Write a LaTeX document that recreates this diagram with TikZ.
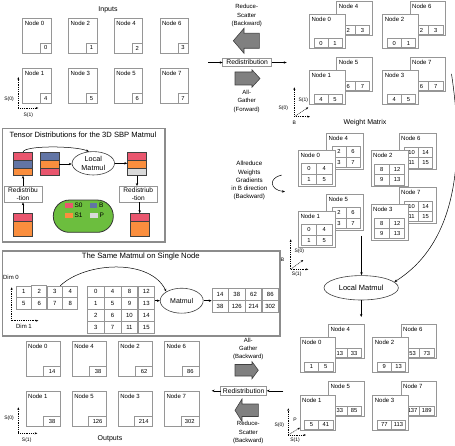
\documentclass[tikz,border=0pt]{standalone}
\usepackage{fontspec}
\setmainfont{Liberation Sans}
\usetikzlibrary{shapes.geometric,arrows.meta,calc,matrix}

\newcommand\fsz[1]{\fontsize{#1}{#1}\selectfont}

\definecolor{cpink}{RGB}{233,86,110}
\definecolor{cblue}{RGB}{98,117,165}
\definecolor{corange}{RGB}{250,142,62}
\definecolor{clgray}{RGB}{218,218,218}
\definecolor{cgreen}{RGB}{108,190,62}
\definecolor{cline}{RGB}{150,150,150}
\definecolor{cblock}{RGB}{128,128,128}
\definecolor{cframe}{RGB}{140,140,140}

\tikzset{
  box/.style={draw=cline, fill=white, inner sep=0pt, outer sep=0pt, line width=0.5pt},
  cell/.style={draw=cline, fill=white, inner sep=0pt, outer sep=0pt, line width=0.5pt, font=\fsz{5.8}},
  lbl/.style={inner sep=0pt, font=\fsz{6}, anchor=north west},
  conn/.style={-{Stealth[length=3pt,width=2.4pt]}, line width=0.5pt, black},
  axis/.style={-{Stealth[length=2.6pt,width=2pt]}, line width=0.45pt, dash pattern=on 1pt off 0.8pt},
  axl/.style={inner sep=0pt, font=\fsz{5}},
  caption/.style={inner sep=0pt, font=\fsz{7}},
  note/.style={inner sep=0pt, font={\fontsize{6}{8.3}\selectfont}, align=center},
  redist/.style={draw=cline, fill=white, inner sep=0pt, outer sep=0pt, line width=0.5pt, font=\fsz{6.8}, minimum height=8.5pt},
  redistb/.style={draw=cline, fill=white, inner sep=0pt, outer sep=0pt, line width=0.5pt, font={\fontsize{6.6}{7.8}\selectfont}, align=center, minimum width=37.7pt, minimum height=16.3pt},
  block/.style={fill=cblock, draw=black!75, line width=0.6pt, line join=miter},
  frame/.style={draw=cframe, line width=1.6pt, inner sep=0pt, anchor=north west},
  bar/.style={draw=black!75, line width=0.6pt, inner sep=0pt, outer sep=0pt, minimum width=19.4pt, minimum height=7.8pt, anchor=north west},
  oval/.style={ellipse, draw=black!75, fill=white, line width=0.6pt, inner sep=0pt},
  sq/.style={inner sep=0pt, minimum width=7.7pt, minimum height=5pt},
  legt/.style={inner sep=0pt, font=\fsz{6.5}, anchor=west}
}

% input / output box with one value cell
\newcommand\mkinput[7]{%
  \node[box, anchor=north west, minimum width=#4pt, minimum height=35pt] (#1) at (#2,#3) {};
  \node[lbl] (#1-l) at ($(#1.north west)+(2,2.5)$) {#5};
  \node[cell, anchor=south east, minimum width=#7pt, minimum height=10pt] (#1-v) at (#1.south east) {#6};
}
% stacked box with a row of two cells
\newcommand\mkrow[6]{%
  \node[box, anchor=north west, minimum width=35.6pt, minimum height=34.5pt] (#1) at (#2,#3) {};
  \node[lbl] (#1-l) at ($(#1.north west)+(2,2.5)$) {#4};
  \node[cell, anchor=south west, minimum width=14.2pt, minimum height=9pt] (#1-a) at ($(#1.south west)+(4.5,-0.8)$) {#5};
  \node[cell, anchor=south west, minimum width=14.2pt, minimum height=9pt] (#1-b) at (#1-a.south east) {#6};
}
% stacked box with a 2x2 grid
\newcommand\mkgrid[9]{%
  \node[box, anchor=north west, minimum width=37pt, minimum height=36pt] (#1) at (#2,#3) {};
  \node[lbl] (#1-l) at ($(#1.north west)+(2,2.5)$) {#4};
  \node[cell, anchor=north east, minimum width=#9pt, minimum height=10.4pt] (#1-b) at ($(#1.north east)+(-3.4,13.6)$) {#6};
  \node[cell, anchor=north east, minimum width=#9pt, minimum height=10.4pt] (#1-a) at (#1-b.north west) {#5};
  \node[cell, anchor=north east, minimum width=#9pt, minimum height=10.4pt] (#1-d) at (#1-b.south east) {#8};
  \node[cell, anchor=north east, minimum width=#9pt, minimum height=10.4pt] (#1-c) at (#1-d.north west) {#7};
}

\begin{document}
\begin{tikzpicture}[x=1pt,y=-1pt]
\useasboundingbox (0,0) rectangle (455,446);

% ---------------- Inputs ----------------
\node[caption] (tin) at (108,9.5) {Inputs};
\mkinput{in0}{22.7}{18}{28.3}{Node 0}{0}{10.3}
\mkinput{in2}{68.45}{18}{28.3}{Node 2}{1}{10.3}
\mkinput{in4}{114.2}{18}{28.3}{Node 4}{2}{10.3}
\mkinput{in6}{159.95}{18}{28.3}{Node 6}{3}{10.3}
\mkinput{in1}{22.7}{68.3}{28.3}{Node 1}{4}{10.3}
\mkinput{in3}{68.45}{68.3}{28.3}{Node 3}{5}{10.3}
\mkinput{in5}{114.2}{68.3}{28.3}{Node 5}{6}{10.3}
\mkinput{in7}{159.95}{68.3}{28.3}{Node 7}{7}{10.3}
\coordinate (a1o) at (18.3,108); \coordinate (a1u) at (18.3,77); \coordinate (a1r) at (38.3,108);
\draw[axis] (a1o) -- (a1u); \draw[axis] (a1o) -- (a1r);
\node[axl] (a1s0) at (9,99) {S(0)};
\node[axl] (a1s1) at (28.3,115) {S(1)};

% ---------------- Top redistribution ----------------
\node[note] (rs1) at (246.7,15.6) {Reduce-\\Scatter\\(Backward)};
\draw[block] (233.3,40.8) -- (244,28.3) -- (244,33.3) -- (259.3,33.3) -- (259.3,48.3) -- (244,48.3) -- (244,53.3) -- cycle;
\node[redist, minimum width=49pt] (rd1) at (247.2,62.5) {Redistribution};
\coordinate (rd1in) at (208,62.5); \coordinate (rd1out) at (286.7,62.5);
\draw[conn] (rd1in) -- (rd1.west); \draw[conn] (rd1.east) -- (rd1out);
\draw[block] (235,72) -- (252,72) -- (252,69.8) -- (260,78.5) -- (252,87.2) -- (252,85) -- (235,85) -- cycle;
\node[note] (ag1) at (246.7,101.2) {All-\\Gather\\(Forward)};

% ---------------- Top right groups ----------------
\mkrow{g0b}{336.7}{1}{Node 4}{2}{3}
\mkrow{g0f}{309.3}{14}{Node 0}{0}{1}
\mkrow{g2b}{410}{1}{Node 6}{2}{3}
\mkrow{g2f}{382.6}{14}{Node 2}{0}{1}
\mkrow{g1b}{336.7}{57}{Node 5}{6}{7}
\mkrow{g1f}{309.3}{70}{Node 1}{4}{5}
\mkrow{g3b}{410}{57}{Node 7}{6}{7}
\mkrow{g3f}{382.6}{70}{Node 3}{4}{5}
\coordinate (a2o) at (294.3,116.7); \coordinate (a2u) at (294.3,87.3);
\coordinate (a2r) at (310,116.7); \coordinate (a2d) at (308.3,107.3);
\draw[axis] (a2o) -- (a2u); \draw[axis] (a2o) -- (a2r); \draw[axis] (a2o) -- (a2d);
\node[axl] (a2s0) at (283.3,108.3) {S(0)};
\node[axl] (a2s1) at (303.3,100) {S(1)};
\node[axl] (a2b) at (294.3,122.7) {B};

% ---------------- Weight matrix ----------------
\node[caption] (twm) at (365,123) {Weight Matrix};
\mkgrid{w0b}{326.3}{133}{Node 4}{2}{6}{3}{7}{14}
\mkgrid{w0f}{298.3}{150}{Node 0}{0}{4}{1}{5}{15.2}
\mkgrid{w2b}{399}{133.5}{Node 6}{10}{14}{11}{15}{14}
\mkgrid{w2f}{371}{150.5}{Node 2}{8}{12}{9}{13}{15.2}
\mkgrid{w1b}{326.3}{194}{Node 5}{2}{6}{3}{7}{14}
\mkgrid{w1f}{298.3}{211}{Node 1}{0}{4}{1}{5}{15.2}
\mkgrid{w3b}{399}{187.3}{Node 7}{10}{14}{11}{15}{14}
\mkgrid{w3f}{371}{204.3}{Node 3}{8}{12}{9}{13}{15.2}
\node[note, font={\fontsize{6.2}{8.1}\selectfont}] (ar) at (249.3,180.5) {Allreduce\\Weights\\Gradients\\in B direction\\(Backward)};
\coordinate (ar1) at (281.7,175); \coordinate (ar2) at (285,191.7);
\draw[conn] (ar1) .. controls (268,178) and (270,190) .. (ar2);
\coordinate (a3o) at (290.7,269.3); \coordinate (a3u) at (290.7,239.3);
\coordinate (a3r) at (308.3,269.3); \coordinate (a3d) at (303.3,260);
\draw[axis] (a3o) -- (a3u); \draw[axis] (a3o) -- (a3r); \draw[axis] (a3o) -- (a3d);
\node[axl] (a3s0) at (299.3,251.7) {S(0)};
\node[axl] (a3b) at (282.5,259.5) {B};
\node[axl] (a3s1) at (296.7,274) {S(1)};

% ---------------- Local Matmul ----------------
\node[oval, minimum width=74.4pt, minimum height=24.4pt, font=\fsz{7.5}] (e3) at (361.2,287.8) {Local Matmul};
\coordinate (w1e) at (361.5,236);
\draw[conn] (w1e) -- (w1e |- e3.north);
\coordinate (e3o) at (361.2,317);
\draw[conn] (e3.south) -- (e3o);
\coordinate (cstart) at (451.5,74);
\draw[conn] (cstart) .. controls (463,150) and (461,240) .. (e3.10);

% ---------------- Tensor distributions frame ----------------
\node[frame, minimum width=162.5pt, minimum height=113.3pt] (tdf) at (1.5,127.7) {};
\node[inner sep=0pt, font=\fsz{7.6}] (tdt) at (83,135) {Tensor Distributions for the 3D SBP Matmul};
\node[bar, fill=cpink] (t1a) at (13.3,152.3) {};
\node[bar, fill=cblue] (t1b) at (t1a.south west) {};
\node[bar, fill=corange] (t1c) at (t1b.south west) {};
\node[bar, fill=cblue] (t2a) at (40,152.3) {};
\node[bar, fill=corange] (t2b) at (t2a.south west) {};
\node[bar, fill=cpink] (t2c) at (t2b.south west) {};
\node[bar, fill=cpink] (t3a) at (127.3,152.3) {};
\node[bar, fill=corange] (t3b) at (t3a.south west) {};
\node[bar, fill=clgray] (t3c) at (t3b.south west) {};
\node[bar, fill=cpink, minimum height=8pt] (t0a) at (13.3,213.3) {};
\node[bar, fill=corange, minimum height=15.4pt] (t0b) at (t0a.south west) {};
\node[bar, fill=cpink, minimum height=8pt] (t4a) at (130,213.3) {};
\node[bar, fill=corange, minimum height=15.4pt] (t4b) at (t4a.south west) {};
\node[oval, minimum width=42.4pt, minimum height=23.4pt, font={\fontsize{7.2}{9.5}\selectfont}, align=center] (e1) at (93.3,163.3) {Local\\Matmul};
\draw[conn] (t2b.east) -- (t2b.east -| e1.west);
\draw[conn] (e1.east) -- (e1.east -| t3b.west);
\draw[conn] (t1a.north) .. controls +(0,-7) and +(-14,-6) .. (e1.110);
\node[redistb] (r1) at (23,194.2) {Redistribu\\-tion};
\node[redistb] (r2) at (138.3,194.2) {Redistriub\\-tion};
\draw[conn] (t0a.north) -- (t0a.north |- r1.south);
\draw[conn] (r1.north) -- (r1.north |- t1c.south);
\draw[conn] (t3c.south) -- (t3c.south |- r2.north);
\draw[conn] (r2.south -| t4a.north) -- (t4a.north);
\node[draw=black!80, fill=cgreen, line width=0.8pt, rounded corners=16pt, minimum width=60pt, minimum height=32.3pt, inner sep=0pt] (leg) at (83.3,216.2) {};
\node[sq, fill=cpink] (ls0) at (68.8,205.2) {};
\node[sq, fill=cblue] (lb) at (93.4,205.2) {};
\node[sq, fill=corange] (ls1) at (68.8,215.2) {};
\node[sq, fill=clgray] (lp) at (94,215.2) {};
\node[legt] (ls0t) at (74.3,205.2) {S0};
\node[legt] (lbt) at (98.8,205.2) {B};
\node[legt] (ls1t) at (74.3,215.2) {S1};
\node[legt] (lpt) at (99.3,215.2) {P};

% ---------------- Same matmul frame ----------------
\node[frame, minimum width=277.5pt, minimum height=85pt] (smf) at (1.5,250) {};
\node[inner sep=0pt, font=\fsz{7.7}] (smt) at (140.8,256.7) {The Same Matmul on Single Node};
\node[inner sep=0pt, font=\fsz{6}] (d0) at (11,277.3) {Dim 0};
\node[inner sep=0pt, font=\fsz{6}] (d1) at (24,326.3) {Dim 1};
\coordinate (a0o) at (11.7,320.7); \coordinate (a0u) at (11.7,287.3); \coordinate (a0r) at (38.3,320.7);
\draw[axis] (a0o) -- (a0u); \draw[axis] (a0o) -- (a0r);
\matrix (ma) at (16,285.5) [matrix of nodes, anchor=north west, inner sep=0pt, outer sep=0pt, column sep=0pt, row sep=0pt,
  nodes={cell, font=\fsz{6}, minimum width=15pt, minimum height=11.4pt}]
  {1 & 2 & 3 & 4\\ 5 & 6 & 7 & 8\\};
\matrix (mb) at (87.3,285.5) [matrix of nodes, anchor=north west, inner sep=0pt, outer sep=0pt, column sep=0pt, row sep=0pt,
  nodes={cell, font=\fsz{6}, minimum width=16.35pt, minimum height=11.4pt}]
  {0 & 4 & 8 & 12\\ 1 & 5 & 9 & 13\\ 2 & 6 & 10 & 14\\ 3 & 7 & 11 & 15\\};
\matrix (mr) at (211.7,287.7) [matrix of nodes, anchor=north west, inner sep=0pt, outer sep=0pt, column sep=0pt, row sep=0pt,
  nodes={cell, font=\fsz{6}, minimum width=16.25pt, minimum height=12pt}]
  {14 & 38 & 62 & 86\\ 38 & 126 & 214 & 302\\};
\node[oval, minimum width=43pt, minimum height=25pt, font=\fsz{7}] (e2) at (181.7,300.7) {Matmul};
\draw[conn] (mb.east |- e2.west) -- (e2.west);
\draw[conn] (e2.east) -- (e2.east -| mr.west);
\coordinate (ca) at ($(ma-1-3.north)+(5.5,0)$);
\draw[conn] (ca) .. controls (85,262) and (150,258) .. (e2.north west);

% ---------------- Outputs ----------------
\mkinput{out0}{26}{341.7}{34.5}{Node 0}{14}{17}
\mkinput{out4}{72.1}{341.7}{34.5}{Node 4}{38}{17}
\mkinput{out2}{118.2}{341.7}{34.5}{Node 2}{62}{17}
\mkinput{out6}{164.3}{341.7}{34.5}{Node 6}{86}{17}
\mkinput{out1}{26}{391.7}{34.5}{Node 1}{38}{17}
\mkinput{out5}{72.1}{391.7}{34.5}{Node 5}{126}{18}
\mkinput{out3}{118.2}{391.7}{34.5}{Node 3}{214}{18}
\mkinput{out7}{164.3}{391.7}{34.5}{Node 7}{302}{18}
\node[caption] (tout) at (110,438.3) {Outputs};
\coordinate (a4o) at (18.3,433.3); \coordinate (a4u) at (18.3,407.3); \coordinate (a4r) at (37.3,433.3);
\draw[axis] (a4o) -- (a4u); \draw[axis] (a4o) -- (a4r);
\node[axl] (a4s0) at (9,418.3) {S(0)};
\node[axl] (a4s1) at (26.7,440.7) {S(1)};

% ---------------- Bottom redistribution ----------------
\node[note] (ag2) at (248.3,349) {All-\\Gather\\(Backward)};
\draw[block] (235,364.5) -- (252,364.5) -- (252,361.7) -- (258.3,370.2) -- (252,378.7) -- (252,376) -- (235,376) -- cycle;
\node[redist, minimum width=46pt] (rd2) at (243.7,390.8) {Redistribution};
\coordinate (rd2in) at (283.3,390.8); \coordinate (rd2out) at (211.7,390.8);
\draw[conn] (rd2in) -- (rd2.east); \draw[conn] (rd2.west) -- (rd2out);
\draw[block] (235,410.3) -- (242,399) -- (242,404) -- (258.3,404) -- (258.3,416.5) -- (242,416.5) -- (242,421.5) -- cycle;
\node[note] (rs2) at (248.3,432.7) {Reduce-\\Scatter\\(Backward)};

% ---------------- Bottom right groups ----------------
\mkrow{o0b}{328.3}{324}{Node 4}{13}{33}
\mkrow{o0f}{300}{337.7}{Node 0}{1}{5}
\mkrow{o2b}{401}{324}{Node 6}{53}{73}
\mkrow{o2f}{372.7}{337.7}{Node 2}{9}{13}
\mkrow{o1b}{328.3}{381.5}{Node 5}{33}{85}
\mkrow{o1f}{300}{395.5}{Node 1}{5}{41}
\mkrow{o3b}{401}{381.5}{Node 7}{137}{189}
\mkrow{o3f}{372.7}{395.5}{Node 3}{77}{113}
\coordinate (a5o) at (288.3,435); \coordinate (a5u) at (288.3,408.3);
\coordinate (a5r) at (306,435); \coordinate (a5d) at (300,427.7);
\draw[axis] (a5o) -- (a5u); \draw[axis] (a5o) -- (a5r); \draw[axis] (a5o) -- (a5d);
\node[axl] (a5s0) at (279.3,425) {S(0)};
\node[axl] (a5p) at (295,420) {P};
\node[axl] (a5s1) at (295,440.5) {S(1)};
\end{tikzpicture}
\end{document}
